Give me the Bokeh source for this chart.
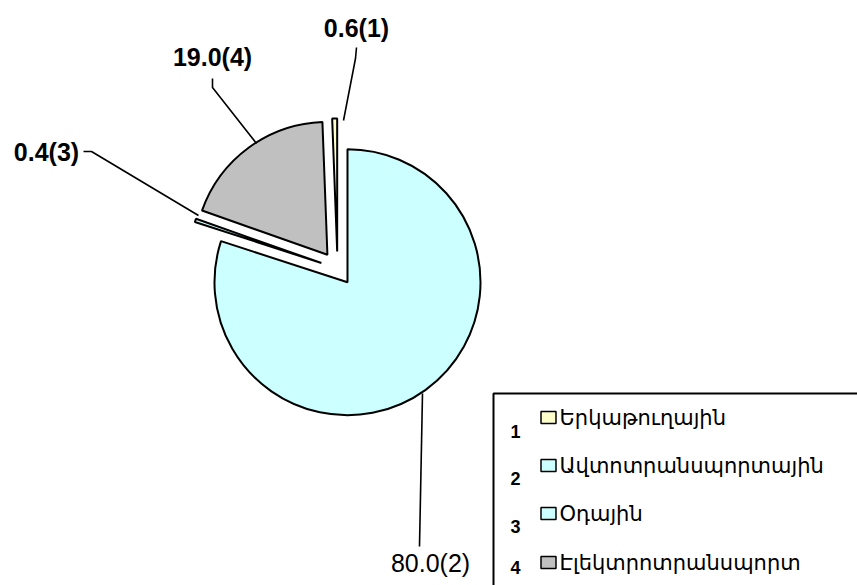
import math
from bokeh.plotting import figure
from bokeh.models import Range1d, ColumnDataSource
from bokeh.core.properties import value
from bokeh.embed import file_html
from bokeh.resources import INLINE

# ---- data ----
ids = [1, 2, 3, 4]
shares = [0.6, 80.0, 0.4, 19.0]
names = ["Երկաթուղային", "Ավտոտրանսպորտային", "Օդային", "Էլեկտրոտրանսպորտ"]
colors = ["#FFFFCC", "#CCFFFF", "#CCFFFF", "#C0C0C0"]

W, H = 857, 585
p = figure(width=W, height=H, output_backend="svg", toolbar_location=None,
           x_range=Range1d(0, W), y_range=Range1d(0, H),
           min_border=0, outline_line_color=None)
p.axis.visible = False
p.grid.visible = False
p.background_fill_color = "white"

def Y(y):  # image y (down) -> data y (up)
    return H - y

# ---- pie (clockwise, exploded) ----
cx, cy = 337, Y(268)
R = 133
explode = 17
total = sum(shares)
start_cw = -shares[0] / total * 360.0  # first slice ends at 12 o'clock
xs, ys, sa, ea = [], [], [], []
acc = start_cw
for v in shares:
    a1 = acc
    a2 = acc + v / total * 360.0
    mid = math.radians(90 - (a1 + a2) / 2)
    xs.append(cx + explode * math.cos(mid))
    ys.append(cy + explode * math.sin(mid))
    sa.append(math.radians(90 - a2))
    ea.append(math.radians(90 - a1))
    acc = a2

src = ColumnDataSource(dict(x=xs, y=ys, sa=sa, ea=ea, color=colors))
p.wedge(x="x", y="y", radius=R, start_angle="sa", end_angle="ea",
        fill_color="color", line_color="black", line_width=2, source=src)

# ---- leader lines ----
leaders = [
    [(356, 47), (355, 58), (343, 120)],
    [(422, 393), (419, 546)],
    [(83, 151), (91, 151), (198, 215)],
    [(212, 78), (212, 87), (256, 143)],
]
for pts in leaders:
    p.line([q[0] for q in pts], [Y(q[1]) for q in pts], line_color="black", line_width=1.6)

# ---- data labels ----
label_pos = [(356, 27, "bold"), (430, 562, "normal"), (46, 151, "bold"), (212, 56, "bold")]
for i, v in enumerate(shares):
    lx, ly, fw = label_pos[i]
    p.text(x=[lx], y=[Y(ly)], text=[f"{v:.1f}({ids[i]})"],
           text_font=value("Liberation Sans"), text_font_style=fw,
           text_font_size="25px", text_align="center", text_baseline="middle",
           text_color="black")

# ---- legend box ----
p.line([493, 493, 900], [Y(700), Y(393), Y(393)], line_color="black", line_width=2)

row_y = [417, 465, 513, 562]
num_y = [431, 478, 526, 567]
for i in range(4):
    p.rect(x=[548], y=[Y(row_y[i])], width=15, height=12, fill_color=colors[i],
           line_color="black", line_width=1.5)
    p.text(x=[559], y=[Y(row_y[i])], text=[names[i]],
           text_font=value("DejaVu Sans"), text_font_size="21px",
           text_align="left", text_baseline="middle", text_color="black")
    p.text(x=[515], y=[Y(num_y[i])], text=[str(ids[i])],
           text_font=value("Liberation Sans"), text_font_style="bold",
           text_font_size="18px", text_align="center", text_baseline="middle",
           text_color="black")

open("out.html", "w").write(file_html(p, INLINE))
